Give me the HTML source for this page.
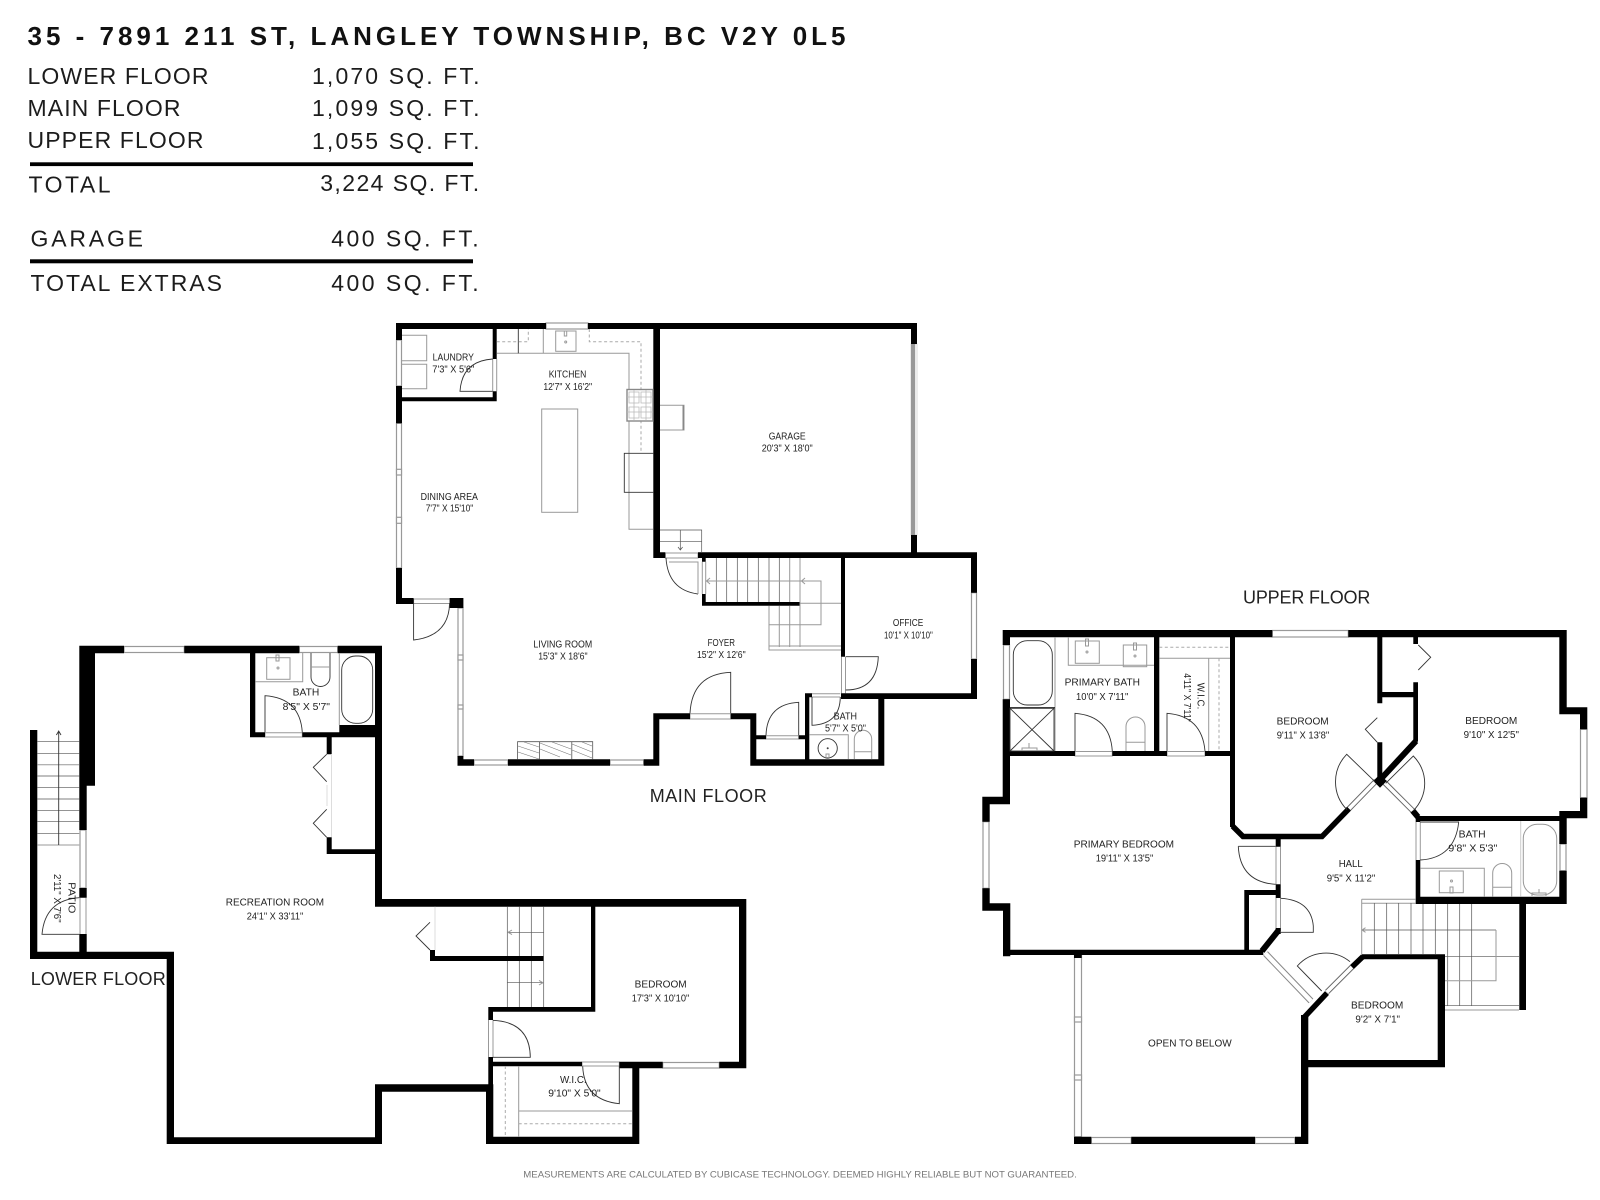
<!DOCTYPE html>
<html lang="en"><head><meta charset="utf-8"><title>Floor plan</title>
<style>
html,body{margin:0;padding:0;background:#fff;width:1600px;height:1200px;overflow:hidden}
svg{display:block}
text{font-family:"Liberation Sans",sans-serif}
.h{font-size:23px;fill:#1c1c1c}
.l{font-size:10px;fill:#222;text-anchor:middle}
.f{font-size:18px;fill:#222}
.t{fill:none;stroke:#333;stroke-width:.9}
.g{fill:none;stroke:#999;stroke-width:1}
.d{fill:none;stroke:#aaa;stroke-width:1;stroke-dasharray:3 2.5}
.w{fill:#fff;stroke:#999;stroke-width:1.2}
</style></head><body>
<svg width="1600" height="1200" viewBox="0 0 1600 1200" xmlns="http://www.w3.org/2000/svg">
<rect width="1600" height="1200" fill="#fff"/>

<!-- header -->
<text x="27.5" y="45" font-size="26" font-weight="700" fill="#111" textLength="818" lengthAdjust="spacing">35 - 7891 211 ST, LANGLEY TOWNSHIP, BC V2Y 0L5</text>
<text class="h" x="27.5" y="84" textLength="181">LOWER FLOOR</text>
<text class="h" x="27.5" y="116" textLength="153">MAIN FLOOR</text>
<text class="h" x="27.5" y="148" textLength="176">UPPER FLOOR</text>
<text class="h" x="312" y="84" textLength="167.5">1,070 SQ. FT.</text>
<text class="h" x="312" y="116" textLength="167.5">1,099 SQ. FT.</text>
<text class="h" x="312" y="149" textLength="167.5">1,055 SQ. FT.</text>
<rect x="30" y="162.3" width="443" height="3.8" fill="#000"/>
<text class="h" x="28.5" y="192.7" textLength="82">TOTAL</text>
<text class="h" x="320.2" y="191" textLength="159">3,224 SQ. FT.</text>
<text class="h" x="30.5" y="246.7" textLength="112.5">GARAGE</text>
<text class="h" x="331.2" y="246.7" textLength="147.5">400 SQ. FT.</text>
<rect x="30" y="259.3" width="443" height="4" fill="#000"/>
<text class="h" x="30.5" y="291" textLength="191.5">TOTAL EXTRAS</text>
<text class="h" x="331.2" y="291" textLength="147.5">400 SQ. FT.</text>

<!-- windows -->
<g class="w">
<rect x="546" y="323" width="42" height="6"/>
<rect x="396.5" y="340" width="5" height="46"/>
<rect x="396.5" y="423.3" width="5" height="144.7"/>
<rect x="396.5" y="469.3" width="5" height="5.7"/>
<rect x="396.5" y="517.3" width="5" height="6"/>
<rect x="458" y="608" width="5" height="148"/>
<rect x="458" y="655" width="5" height="5"/>
<rect x="458" y="705" width="5" height="4"/>
<rect x="474" y="760" width="34" height="5"/>
<rect x="610" y="760" width="33.7" height="5"/>
<rect x="971.5" y="592.7" width="5" height="66.3"/>
<rect x="124" y="646.5" width="60.3" height="6"/>
<rect x="299.3" y="646.5" width="38.4" height="6"/>
<rect x="80" y="830" width="6" height="58"/>
<rect x="662.7" y="1062.5" width="56.6" height="5.5"/>
<rect x="1272.3" y="630.5" width="76" height="6.5"/>
<rect x="1003.5" y="645" width="6" height="54.3"/>
<rect x="983" y="821.7" width="6" height="66.6"/>
<rect x="1074.5" y="955" width="7" height="181.7"/>
<rect x="1074.5" y="1017" width="7" height="5"/>
<rect x="1074.5" y="1075" width="7" height="5"/>
<rect x="1091.3" y="1137.5" width="40" height="6"/>
<rect x="1255" y="1137.5" width="40" height="6"/>
<rect x="1580.5" y="729.3" width="6.5" height="68.4"/>
<rect x="1560" y="844" width="6" height="26.7"/>
</g>
<rect x="911" y="344" width="6" height="191" fill="#fff" stroke="#ccc" stroke-width=".7"/>
<rect x="911" y="344" width="4.2" height="191" fill="#999"/>

<!-- door sill lines -->
<g class="g">
<path d="M413.6 599H449.6M413.6 603.5H449.6"/>
<path d="M690 713.8H730.7V719H690Z"/>
<path d="M766 735.8H798.7V739H766Z"/>
<path d="M665.3 553H698V558H665.3Z"/>
<path d="M841.5 656.7V693.3M845.5 656.7V693.3"/>
<path d="M812 693.8H840.3M812 697H840.3"/>
<path d="M492.7 359V391.3M496.7 359V391.3"/>
<path d="M702.3 561.7V594M705.7 561.7V594"/>
<path d="M265 732.8H302.3V737H265Z"/>
<path d="M488.5 1020V1057M493 1020V1057"/>
<path d="M582 1062H619.3V1066H582Z"/>
<path d="M80 897.7V934M86 897.7V934"/>
<path d="M1075 751.5H1112.3V756H1075Z"/>
<path d="M1167 751.5H1205V756H1167Z"/>
<path d="M1276 846.7V884.3M1280.5 846.7V884.3"/>
<path d="M1276 898V931M1280.5 898V931"/>
<path d="M1416 822V860M1420.3 822V860"/>
</g>
<!-- diagonal openings -->
<g fill="none" stroke-linecap="butt">
<path d="M1265.5 953.5L1311 1001" stroke="#888" stroke-width="6.5"/><path d="M1265.5 953.5L1311 1001" stroke="#fff" stroke-width="4.5"/>
<path d="M1327 992L1352 967" stroke="#666" stroke-width="5.5"/><path d="M1327 992L1352 967" stroke="#fff" stroke-width="3.6"/>
<path d="M1349 808.7L1376 781" stroke="#666" stroke-width="5.5"/><path d="M1349 808.7L1376 781" stroke="#fff" stroke-width="3.6"/>
<path d="M1384 782L1412.7 810.7" stroke="#666" stroke-width="5.5"/><path d="M1384 782L1412.7 810.7" stroke="#fff" stroke-width="3.6"/>
</g>

<!-- walls -->
<path fill="#000" d="
M396 323H546V329H396Z M588 323H917V329H588Z M396 323H402V340H396Z M396 386H402V423.3H396Z M396 568H402V604H396Z M396 598H413.6V604H396Z
M449.6 598H463.4V608H449.6Z M457.5 756H463.4V765.7H457.5Z M457.5 759.3H474V765.7H457.5Z M508 759.3H610V765.7H508Z M643.7 759.3H659.3V765.7H643.7Z
M653.3 713.3H659.3V765.7H653.3Z M653.3 713.3H690V719.3H653.3Z M730.7 713.3H756.3V719.3H730.7Z M750.3 713.3H756.3V765.7H750.3Z M750.3 759.3H884.3V765.7H750.3Z
M878.3 693.3H884.3V765.7H878.3Z M805 693.3H812V697.3H805Z M841 693.3H977V699H841Z M805 693.3H809.3V765.7H805Z M750.3 735.3H766V739.3H750.3Z M798.7 735.3H805V739.3H798.7Z
M971 552.3H977V592.7H971Z M971 659H977V699H971Z M841 552.3H845V656.7H841Z M698 552.3H977V558H698Z M653.3 552.3H665.3V558H653.3Z M653.3 323H660V558H653.3Z
M911 323H917V344H911Z M911 535H917V558H911Z M702 552.3H705.7V561.7H702Z M702 594H705.7V605.7H702Z M702 602H800V605.7H702Z
M492.7 329H496.7V359H492.7Z M492.7 391.3H496.7V401.3H492.7Z M402 397.3H496.7V401.3H402Z

M79.3 645.7H124V653.3H79.3Z M184.3 645.7H299.3V653.3H184.3Z M337.7 645.7H382V653.3H337.7Z M79.3 645.7H95V785.7H79.3Z M79.3 785H86.7V830H79.3Z M79.3 888H86.7V897.7H79.3Z M79.3 934H86.7V959H79.3Z
M30 951.7H174V959H30Z M30 730H37.3V959H30Z M166.7 951.7H174V1144H166.7Z M166.7 1137.3H382V1144H166.7Z M375 1084.3H382V1144H375Z M375 1084.3H488V1091.7H375Z M486 1084.3H493.3V1144H486Z
M488.3 1007H493V1020H488.3Z M488.3 1057H493V1085H488.3Z M486 1136.7H639.3V1144H486Z M632.3 1061.7H639.3V1144H632.3Z M493 1061.7H582V1066.3H493Z M619.3 1061.7H662.7V1068.3H619.3Z M719.3 1061.7H746.3V1068.3H719.3Z
M739 899H746.3V1068.3H739Z M375 899H746.3V906.7H375Z M375 645.7H382V906.7H375Z M591 899H595.3V1011.7H591Z M488.3 1007H595.3V1011.7H488.3Z M430 956H543.7V961H430Z M430 950H435V961H430Z
M250 653H255.3V737.3H250Z M250 732.3H265V737.3H250Z M302.3 732.3H382V737.3H302.3Z M339.3 725H375V737H339.3Z M326.7 737H331.7V754.3H326.7Z M326.7 837.3H331.7V854H326.7Z M326.7 849.3H375V854H326.7Z

M1002.7 630H1272.3V637.3H1002.7Z M1348.3 630H1566.7V637.3H1348.3Z M1002.7 630H1010V645H1002.7Z M1002.7 699.3H1010V804.3H1002.7Z M982.3 796.7H1010V804.3H982.3Z M982.3 796.7H989.7V821.7H982.3Z
M982.3 888.3H989.7V910.7H982.3Z M982.3 903.3H1010.3V910.7H982.3Z M1003 903.3H1010.3V956.3H1003Z M1003 949.7H1263.3V955H1003Z M1074 950H1081.7V958H1074Z
M1010 751H1075V756H1010Z M1112.3 751H1167V756H1112.3Z M1205 751H1235V756H1205Z M1154 637H1159.3V751H1154Z M1230 637H1235V827H1230Z
M1275.7 837H1280.7V846.7H1275.7Z M1275.7 884.3H1280.7V898H1275.7Z M1244.3 890H1280V895H1244.3Z M1244.3 890H1249V953H1244.3Z M1275.7 928H1280.7V934H1275.7Z
M1377.3 637H1382.3V703.3H1377.3Z M1377.3 742.3H1382.3V781H1377.3Z M1413.3 637H1418V644H1413.3Z M1413.3 682.3H1418V741.7H1413.3Z M1382 692H1418V697.3H1382Z
M1559.3 630H1566.7V714H1559.3Z M1559.3 707.3H1587.3V714.3H1559.3Z M1580 707.3H1587.3V729.3H1580Z M1580 797.7H1587.3V818.3H1580Z M1559.3 811H1587.3V818.3H1559.3Z
M1559.3 811H1566.7V844H1559.3Z M1559.3 870.7H1566.7V904H1559.3Z M1416.7 816H1566.7V821H1416.7Z M1415.7 860H1420.3V904H1415.7Z M1416 896.7H1566.7V904H1416Z M1415.7 816H1420.3V822H1415.7Z M1519.3 903H1526V1010H1519.3Z
M1074 1136.7H1091.3V1144H1074Z M1131.3 1136.7H1255V1144H1131.3Z M1295 1136.7H1308.3V1144H1295Z M1301 1015H1308.3V1144H1301Z M1361.7 954.3H1445V959.3H1361.7Z M1437.7 954.3H1445V1067.3H1437.7Z M1305 1060H1445V1067.3H1305Z"/>
<g fill="none" stroke="#000">
<path d="M1232.5 826L1243 836.5H1322L1349 808.7" stroke-width="5.5"/>
<path d="M1278 931L1262 951" stroke-width="6"/>
<path d="M1416 741L1379 781" stroke-width="6"/>
<path d="M1374 781L1380 775L1386 781L1380 787Z" fill="#000" stroke-width="1"/>
<path d="M1412.7 810.7L1418 817" stroke-width="6"/>
<path d="M1304.5 1017L1327 993" stroke-width="5.5"/>
<path d="M1352 967L1363 956.5" stroke-width="5.5"/>
</g>

<!-- kitchen & laundry fixtures -->
<path class="g" d="M496.7 353.3H629V529.3H653.3"/>
<path class="t" d="M518.3 329V353.3"/><path class="g" d="M543.3 329V353.3"/>
<path class="d" d="M496.7 341.7H528.3V329M589.3 329V341.7H641V453"/>
<rect class="g" x="555.7" y="331" width="20.3" height="20.3"/><rect class="g" x="564.3" y="331" width="2.4" height="5"/><circle class="g" cx="565.7" cy="342" r="1"/>
<rect x="627" y="389.5" width="26" height="31.5" fill="#fff" stroke="#888" stroke-width="1.4"/>
<path d="M629 392H639V403H629ZM641 392H651V403H641ZM629 407H639V418H629ZM641 407H651V418H641ZM634 390V420M646 390V420M627 397H653M627 412H653" fill="none" stroke="#bbb" stroke-width=".8"/>
<path class="t" d="M653.3 453.3H624.3V492.3H653.3"/>
<rect class="g" x="541.7" y="409" width="36" height="103.3"/>
<path class="g" d="M660 405.3H684V430H660"/><rect x="682.5" y="405.3" width="1.6" height="24.7" fill="#888"/>
<path class="g" d="M402 335.3H426.7V360.7H402M402 364.3H426.7V388.7H402"/>
<path class="t" d="M492.7 391.3H460Q462 361 492.7 359"/>
<path class="t" d="M413.6 599V640Q449 636 449.6 603"/>
<!-- fireplace -->
<path d="M517.6 759.3V741.7H592.7V759.3M539.4 741.7V759.3M571.8 741.7V759.3" fill="none" stroke="#555" stroke-width=".8"/>
<path fill="none" stroke="#777" stroke-width=".6" d="M518 746L539 753M518 752L539 759M524 742L539 747M540 743L571 755M540 749L560 757M552 742L571 749M572 744L592 752M572 750L592 758M582 742L592 746"/>
<!-- main doors -->
<path class="t" d="M730.7 713.3V672.3Q692 674 690 713.3"/>
<path class="t" d="M798.7 735.3V702.3Q767 704 766 735.3"/>
<path class="t" d="M845.7 656.7H878.3Q877 690 845.7 690"/>
<path class="t" d="M812 697V725.3Q840 724 840.3 697"/>
<path class="t" d="M666 558Q668 590 698 594"/><path class="g" d="M669 562H698V594"/>
<!-- main stairs -->
<path d="M716.3 558V602M726.7 558V602M737.3 558V602M747.7 558V602M758.3 558V602M769 558V602M779.3 558V602" fill="none" stroke="#555" stroke-width=".7"/>
<path class="g" d="M789.7 558V602M800 558V647M769 606V647M779.3 606V647M789.7 606V647M705.7 581H821V624.7H769M800 603.3H841"/>
<path class="g" d="M769 606V650H841M769 646H841"/>
<path class="g" d="M710 578L706.5 581L710 584M805 578L801.5 581L805 584"/>
<path d="M660 530H701.7V552M660 541.3H701.7M680.3 530V550M678 547L680.3 550L682.6 547" fill="none" stroke="#555" stroke-width=".7"/>
<!-- small bath -->
<path class="g" d="M809.3 734.7H848.3V759"/>
<circle class="t" cx="827.7" cy="748.3" r="9.6"/><circle cx="827.7" cy="748.3" r="1" fill="#444"/><rect class="g" x="826" y="754" width="3" height="5"/>
<path class="g" d="M854.3 759.3V739A8.7 8.7 0 0 1 871.7 739V759.3M854.3 751.7H871.7"/>

<!-- lower stairs -->
<path d="M37.3 741.7H79.3M37.3 753.3H79.3M37.3 776H79.3M37.3 787.7H79.3M37.3 799H79.3M37.3 810.3H79.3M37.3 821.7H79.3M37.3 833.3H79.3" fill="none" stroke="#555" stroke-width=".7"/>
<path class="g" d="M37.3 764.7H79.3M37.3 845H79.3"/>
<path class="t" d="M58.7 845V731M56.4 735L58.7 731L61 735"/>
<path class="t" d="M79.3 934.3H42Q45 900 79.3 897.7"/>
<!-- lower bath -->
<path class="g" d="M255.3 681.7H302.7V653"/>
<rect class="g" x="266.7" y="657.7" width="23.3" height="21.6"/><rect class="g" x="276" y="655" width="3" height="6"/><circle class="g" cx="278" cy="668" r="1"/>
<path class="t" d="M311 653V677A9.5 9.5 0 0 0 330 677V653"/><path class="g" d="M311 667H330"/>
<rect class="t" x="341.7" y="656" width="31" height="67.3" rx="14"/>
<path class="g" d="M339.3 653V725"/>
<path class="t" d="M265 732.3V695.7Q300 698 302.3 732.3"/>
<path class="t" d="M326.7 754.3L313.3 767.3L326.7 781.7M326.7 809.3L313.3 823.3L326.7 837.3"/>
<path d="M331.5 754V837M327 785V806" stroke="#ddd" fill="none" stroke-width="1"/>
<!-- lower stairs 2 -->
<path class="t" d="M430 922.3L416 936L430 950"/>
<path d="M507.3 906.7V956M519.3 906.7V956M531.3 906.7V956M543.7 906.7V956M507.3 961V1007M519.3 961V1007M531.3 961V1007M543.7 961V1007M507.3 932.3H543.7M507.3 982.7H543.7" fill="none" stroke="#555" stroke-width=".7"/>
<path class="g" d="M512 930L508 932.3L512 934.6M539 980.4L543 982.7L539 985"/>
<path d="M435 906.7V950" stroke="#ddd" fill="none"/>
<path class="t" d="M493 1020.3Q530 1022 530.3 1057.3H493"/>
<path class="t" d="M619.3 1066.3V1103.7Q584 1100 582.7 1066.3"/>
<path class="g" d="M518.7 1066V1137M518.7 1111H632.3"/><path class="d" d="M505.3 1066V1137M518.7 1123.7H632.3"/>

<!-- upper: primary bath -->
<path class="g" d="M1055 637V751M1068.3 637V665.3H1154"/>
<rect class="t" x="1013.3" y="640.7" width="39" height="64.3" rx="14"/>
<rect class="t" x="1010" y="708.3" width="44" height="42.7"/><path class="t" d="M1010 708.3L1054 751M1054 708.3L1010 751"/>
<path d="M1010 707.7H1055" stroke="#222" stroke-width="1.2"/>
<path class="g" d="M1022 751V748H1037V751M1029 748V743"/>
<rect class="g" x="1075.3" y="641" width="24" height="22.3"/><rect class="g" x="1085.5" y="639" width="3" height="7"/><circle class="g" cx="1087" cy="652" r="1"/>
<rect class="g" x="1123.3" y="645" width="23.4" height="21.7"/><rect class="g" x="1133.5" y="643" width="3" height="7"/><circle class="g" cx="1135" cy="656" r="1"/>
<path class="g" d="M1126 751V726.5A9.5 9.5 0 0 1 1145 726.5V751M1126 742.3H1145"/>
<path class="t" d="M1075 751V713.3Q1110 716 1112.3 751"/>
<path class="g" d="M1159.3 658.3H1230M1208.7 658.3V751"/><path class="d" d="M1159.3 647.3H1230M1219 658.3V751"/>
<path class="t" d="M1167 751V713.3Q1202 716 1205 751"/>
<!-- upper doors -->
<path class="t" d="M1375 781.7L1346.7 754.3A39.5 39.5 0 0 0 1347 809.7"/>
<path class="t" d="M1385.7 783.3L1413.3 756A38.5 38.5 0 0 1 1413.3 810.7"/>
<path class="t" d="M1418.3 645L1430.7 657.3L1418.3 670M1377.3 717.7L1365.3 729.3L1377.3 742.3"/>
<path class="t" d="M1420.3 822H1458.7Q1455 858 1420.3 860"/>
<path class="g" d="M1420.3 868.3H1484.3V896.7"/>
<rect class="g" x="1439.3" y="871" width="24" height="21.7"/><rect class="g" x="1450" y="887" width="3" height="6"/><circle class="g" cx="1451.5" cy="881" r="1"/>
<path class="g" d="M1492.7 896.7V873A9.5 9.5 0 0 1 1511.7 873V896.7M1492.7 887.3H1511.7"/>
<path d="M1520.7 821V896.7" stroke="#ccc" fill="none"/>
<rect class="g" x="1523.3" y="824.3" width="33.4" height="70.7" rx="14"/>
<path class="g" d="M1532 896V893H1546V896M1539 893V889"/>
<path class="t" d="M1238.3 846.3H1275.7M1238.3 846.3Q1240 882 1275.7 884.3"/>
<path class="t" d="M1280.7 932.3H1313.3V926Q1311 900 1280.7 898.3"/>
<path class="t" d="M1321.7 991L1297.3 966A38 38 0 0 1 1350 961.7"/>
<!-- upper stairs -->
<path class="g" d="M1361.7 899.3H1415.7M1361.7 903.3H1415.7M1361.7 899.3V954M1445 1010H1519"/>
<path d="M1374.3 903V954M1386.7 903V954M1398.7 903V954M1411 903V954M1423 904V954M1435.3 904V954M1447.7 904V1005.7M1459.7 904V1005.7M1471.7 904V1005.7M1361.7 930H1496M1445 956.7H1519M1445 1005.7H1519" fill="none" stroke="#555" stroke-width=".7"/>
<path class="g" d="M1496 930V980.7H1445M1365.5 927.7L1362 930L1365.5 932.3"/>

<!-- labels -->
<g>
<text class="l" x="453.3" y="360.7" textLength="41.3" lengthAdjust="spacingAndGlyphs">LAUNDRY</text>
<text class="l" x="453.3" y="372.7" textLength="42" lengthAdjust="spacingAndGlyphs">7'3" X 5'6"</text>
<text class="l" x="567.5" y="377.7" textLength="37.6" lengthAdjust="spacingAndGlyphs">KITCHEN</text>
<text class="l" x="567.7" y="390" textLength="48.7" lengthAdjust="spacingAndGlyphs">12'7" X 16'2"</text>
<text class="l" x="449.3" y="500" textLength="57.3" lengthAdjust="spacingAndGlyphs">DINING AREA</text>
<text class="l" x="449.5" y="511.7" textLength="47.6" lengthAdjust="spacingAndGlyphs">7'7" X 15'10"</text>
<text class="l" x="787.2" y="439.3" textLength="37" lengthAdjust="spacingAndGlyphs">GARAGE</text>
<text class="l" x="787.2" y="451.3" textLength="51" lengthAdjust="spacingAndGlyphs">20'3" X 18'0"</text>
<text class="l" x="562.8" y="647.3" textLength="58.9" lengthAdjust="spacingAndGlyphs">LIVING ROOM</text>
<text class="l" x="562.9" y="659.3" textLength="49.4" lengthAdjust="spacingAndGlyphs">15'3" X 18'6"</text>
<text class="l" x="721.3" y="646" textLength="27.3" lengthAdjust="spacingAndGlyphs">FOYER</text>
<text class="l" x="721.3" y="658" textLength="48.7" lengthAdjust="spacingAndGlyphs">15'2" X 12'6"</text>
<text class="l" x="908.1" y="626" textLength="30.4" lengthAdjust="spacingAndGlyphs">OFFICE</text>
<text class="l" x="908.4" y="638.3" textLength="48.8" lengthAdjust="spacingAndGlyphs">10'1" X 10'10"</text>
<text class="l" x="845.3" y="719.3" textLength="23.3" lengthAdjust="spacingAndGlyphs">BATH</text>
<text class="l" x="845.5" y="731.7" textLength="41" lengthAdjust="spacingAndGlyphs">5'7" X 5'0"</text>

<text class="l" x="306" y="695.7" textLength="26.6" lengthAdjust="spacingAndGlyphs">BATH</text>
<text class="l" x="306.3" y="710" textLength="47.3" lengthAdjust="spacingAndGlyphs">8'5" X 5'7"</text>
<text class="l" x="274.9" y="905.7" textLength="98.3" lengthAdjust="spacingAndGlyphs">RECREATION ROOM</text>
<text class="l" x="275" y="919.3" textLength="56.6" lengthAdjust="spacingAndGlyphs">24'1" X 33'11"</text>
<text class="l" transform="translate(68.3 897.8) rotate(90)" textLength="31" lengthAdjust="spacingAndGlyphs">PATIO</text>
<text class="l" transform="translate(54 898.3) rotate(90)" textLength="48.7" lengthAdjust="spacingAndGlyphs">2'11" X 7'6"</text>
<text class="l" x="660.7" y="987.7" textLength="52" lengthAdjust="spacingAndGlyphs">BEDROOM</text>
<text class="l" x="660.5" y="1001.7" textLength="57.6" lengthAdjust="spacingAndGlyphs">17'3" X 10'10"</text>
<text class="l" x="573.3" y="1083" textLength="26.7" lengthAdjust="spacingAndGlyphs">W.I.C.</text>
<text class="l" x="574.5" y="1096.7" textLength="52.4" lengthAdjust="spacingAndGlyphs">9'10" X 5'0"</text>

<text class="l" x="1102.3" y="685.7" textLength="75.3" lengthAdjust="spacingAndGlyphs">PRIMARY BATH</text>
<text class="l" x="1102.2" y="700" textLength="52.3" lengthAdjust="spacingAndGlyphs">10'0" X 7'11"</text>
<text class="l" transform="translate(1197.7 696) rotate(90)" textLength="26.6" lengthAdjust="spacingAndGlyphs">W.I.C.</text>
<text class="l" transform="translate(1184 697.5) rotate(90)" textLength="48.4" lengthAdjust="spacingAndGlyphs">4'11" X 7'11"</text>
<text class="l" x="1302.7" y="724.3" textLength="52" lengthAdjust="spacingAndGlyphs">BEDROOM</text>
<text class="l" x="1303" y="738.3" textLength="52.6" lengthAdjust="spacingAndGlyphs">9'11" X 13'8"</text>
<text class="l" x="1491.3" y="724" textLength="52" lengthAdjust="spacingAndGlyphs">BEDROOM</text>
<text class="l" x="1491.3" y="738" textLength="55.3" lengthAdjust="spacingAndGlyphs">9'10" X 12'5"</text>
<text class="l" x="1350.7" y="867" textLength="24" lengthAdjust="spacingAndGlyphs">HALL</text>
<text class="l" x="1351" y="881.3" textLength="48.6" lengthAdjust="spacingAndGlyphs">9'5" X 11'2"</text>
<text class="l" x="1472.2" y="837.3" textLength="27" lengthAdjust="spacingAndGlyphs">BATH</text>
<text class="l" x="1472.8" y="851.7" textLength="49" lengthAdjust="spacingAndGlyphs">9'8" X 5'3"</text>
<text class="l" x="1123.9" y="847.3" textLength="100.3" lengthAdjust="spacingAndGlyphs">PRIMARY BEDROOM</text>
<text class="l" x="1124.5" y="861.7" textLength="57.6" lengthAdjust="spacingAndGlyphs">19'11" X 13'5"</text>
<text class="l" x="1189.9" y="1046.7" textLength="83.7" lengthAdjust="spacingAndGlyphs">OPEN TO BELOW</text>
<text class="l" x="1377.2" y="1008.3" textLength="52.3" lengthAdjust="spacingAndGlyphs">BEDROOM</text>
<text class="l" x="1377.7" y="1022.3" textLength="44.7" lengthAdjust="spacingAndGlyphs">9'2" X 7'1"</text>
</g>
<text class="f" x="649.7" y="802" textLength="117">MAIN FLOOR</text>
<text class="f" x="30.7" y="985" textLength="135">LOWER FLOOR</text>
<text class="f" x="1243" y="603.3" textLength="127.4">UPPER FLOOR</text>
<text x="523.3" y="1177.3" font-size="9.5" fill="#777" textLength="553.5" lengthAdjust="spacingAndGlyphs">MEASUREMENTS ARE CALCULATED BY CUBICASE TECHNOLOGY. DEEMED HIGHLY RELIABLE BUT NOT GUARANTEED.</text>
</svg>
</body></html>
